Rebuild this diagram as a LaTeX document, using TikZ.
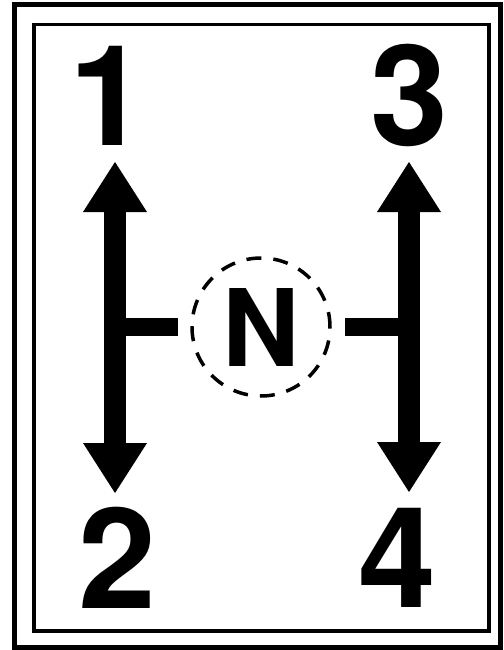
\documentclass[tikz,border=0pt]{standalone}
\usepackage{fontspec}
\setmainfont{TeX Gyre Heros}
\usetikzlibrary{arrows.meta}
\begin{document}
\begin{tikzpicture}[x=1pt,y=-1pt,
  digit/.style={font=\fontsize{140}{140}\selectfont\bfseries, inner sep=0pt, anchor=base},
  shaft/.style={line width=22pt, line cap=butt, -{Triangle[length=50pt,width=64pt,line width=0pt]}},
  stub/.style={line width=18pt, line cap=butt},
  neutral/.style={circle, draw, line width=3.5pt, dash pattern=on 15pt off 12pt, minimum size=138pt, inner sep=0pt,
    font=\fontsize{107}{107}\selectfont\bfseries}]
\useasboundingbox (0,0) rectangle (503,650);
\draw[line width=5pt] (14.5,5) rectangle (500.5,647);
\draw[line width=3.5pt] (34,24.5) rectangle (489,631);
% digits
\node[digit] (d1) at (108,146) {1};
\node[digit] (d3) at (409,145) {3};
\node[digit] (d2) at (117,608) {2};
\node[digit] (d4) at (397,607) {4};
% neutral
\node[neutral] (N) at (261,327) {N};
% left lever path
\coordinate (Lmid) at (115,327);
\coordinate (Ltop) at (115,162);
\coordinate (Lbot) at (115,493);
\coordinate (Lstub) at (178,327);
\draw[shaft] (Lmid) -- (Ltop);
\draw[shaft] (Lmid) -- (Lbot);
\draw[stub] ([xshift=-11pt]Lmid) -- (Lstub);
% right lever path
\coordinate (Rmid) at (409,327);
\coordinate (Rtop) at (409,162);
\coordinate (Rbot) at (409,492);
\coordinate (Rstub) at (345,327);
\draw[shaft] (Rmid) -- (Rtop);
\draw[shaft] (Rmid) -- (Rbot);
\draw[stub] ([xshift=11pt]Rmid) -- (Rstub);
\end{tikzpicture}
\end{document}
